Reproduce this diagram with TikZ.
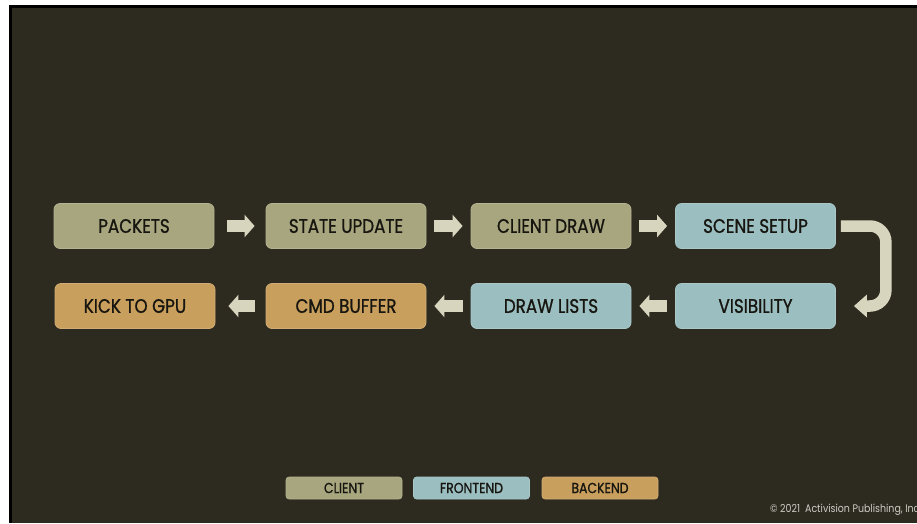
\documentclass[tikz,border=0pt]{standalone}
\usepackage{fontspec}
\setmainfont[FakeStretch=0.86,FakeBold=0.9]{Poppins}
\newfontfamily\notefont[FakeStretch=0.86]{Poppins}
\usetikzlibrary{arrows.meta}

\definecolor{bgdark}{RGB}{45,42,32}
\definecolor{clientc}{RGB}{168,166,126}
\definecolor{frontc}{RGB}{155,190,192}
\definecolor{backc}{RGB}{201,159,93}
\definecolor{arrowc}{RGB}{216,213,190}
\definecolor{inkc}{RGB}{22,21,15}
\definecolor{notec}{RGB}{205,205,198}

\begin{document}
\begin{tikzpicture}[x=1pt,y=-1pt,
  stage/.style={rounded corners=6pt, minimum width=160pt, minimum height=45pt,
    inner sep=0pt, text=inkc, line width=0.8pt,
    font=\fontsize{19.5}{19.5}\selectfont},
  client/.style={stage, fill=clientc, draw=clientc!85!white},
  front/.style={stage, fill=frontc, draw=frontc!85!white},
  back/.style={stage, fill=backc, draw=backc!85!white},
  key/.style={rounded corners=3pt, minimum width=116pt, minimum height=22pt,
    inner sep=0pt, text=inkc, line width=0.6pt,
    font=\fontsize{14.5}{14.5}\selectfont},
  flow/.style={draw=arrowc, line width=11.5pt,
    -{Triangle[width=22pt,length=10pt]}},
]
% page, frame and slide background
\useasboundingbox (0,0) rectangle (917,523);
\clip (0,0) rectangle (917,523);
\fill[white] (0,0) rectangle (917,523);
\fill[black] (9,5) rectangle (917,523);
\fill[bgdark] (12,8) rectangle (917,523);

% pipeline stages
\node[client] (packets) at (134,226) {PACKETS};
\node[client] (state)   at (346,226) {STATE UPDATE};
\node[client] (cdraw)   at (551,226) {CLIENT DRAW};
\node[front]  (scene)   at (755.5,226) {SCENE SETUP};
\node[back]   (kick)    at (135,306) {KICK TO GPU};
\node[back]   (cmd)     at (346,306) {CMD BUFFER};
\node[front]  (lists)   at (551,306) {DRAW LISTS};
\node[front]  (vis)     at (755.5,306) {VISIBILITY};

% flow arrows
\draw[flow] ([xshift=13pt]packets.east) -- ([xshift=-11pt]state.west);
\draw[flow] ([xshift=8pt]state.east) -- ([xshift=-8pt]cdraw.west);
\draw[flow] ([xshift=8pt]cdraw.east) -- ([xshift=-8pt]scene.west);
\draw[flow] ([xshift=-8pt]vis.west) -- ([xshift=8pt]lists.east);
\draw[flow] ([xshift=-8pt]lists.west) -- ([xshift=8pt]cmd.east);
\draw[flow] ([xshift=-11pt]cmd.west) -- ([xshift=13pt]kick.east);
\draw[draw=arrowc, line width=11.5pt, rounded corners=16pt,
  -{Triangle[width=22pt,length=13pt]}]
  ([xshift=5pt]scene.east) -| ([xshift=50pt]vis.east) -- ([xshift=18pt]vis.east);

% legend
\node[key, fill=clientc, draw=clientc!85!white] (kclient) at (344,488) {CLIENT};
\node[key, fill=frontc, draw=frontc!85!white]   (kfront)  at (471.5,488) {FRONTEND};
\node[key, fill=backc, draw=backc!85!white]     (kback)   at (600,488) {BACKEND};

% copyright line
\node[anchor=base west, inner sep=0pt, text=notec,
  font=\notefont\fontsize{11}{11}\selectfont] (copy) at (770,512) {© 2021\ \ Activision Publishing, Inc};
\end{tikzpicture}
\end{document}
